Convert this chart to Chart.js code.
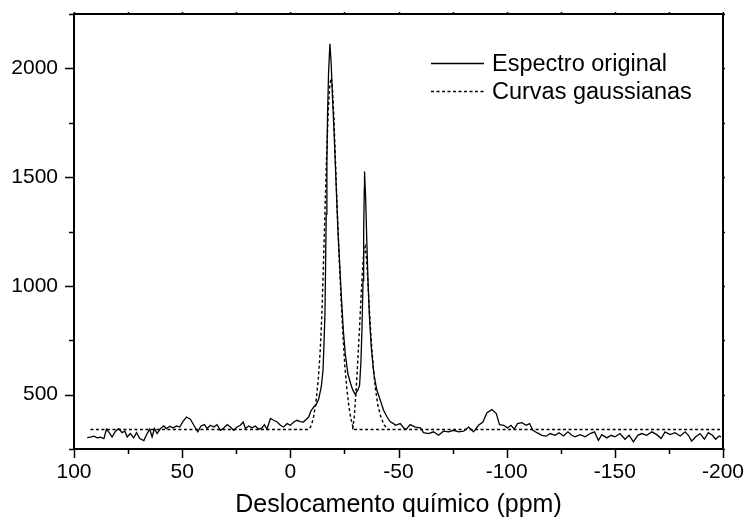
<!DOCTYPE html>
<html>
<head>
<meta charset="utf-8">
<script src="https://cdn.jsdelivr.net/npm/chart.js@4.4.1/dist/chart.umd.min.js"></script>
<style>
  html, body { margin: 0; padding: 0; background: #fff; }
  canvas { display: block; }
</style>
</head>
<body>
<canvas id="spectrum" width="747" height="523"></canvas>
<script>
// espectro original (deslocamento em ppm, intensidade)
const shiftPpm = [
  93.9, 92.4, 90.8, 89.3, 87.8, 86.2, 85.0, 83.4, 82.4, 80.8,
  79.3, 77.8, 76.5, 75.4, 73.9, 72.4, 71.1, 69.6, 67.7, 66.2,
  65.0, 63.9, 62.8, 61.6, 60.0, 58.5, 57.3, 55.7, 54.2, 52.6,
  51.1, 49.6, 48.0, 46.2, 44.6, 42.8, 41.3, 39.7, 38.5, 36.9,
  35.4, 33.9, 32.3, 30.8, 29.2, 27.7, 26.2, 24.6, 23.1, 21.8,
  20.8, 19.2, 17.7, 16.2, 14.6, 13.1, 12.0, 10.8, 9.2, 7.7,
  6.1, 4.6, 3.1, 1.5, 0.0, -1.6, -3.1, -4.6, -6.1, -6.9,
  -8.5, -9.5, -10.8, -11.8, -13.1, -14.3, -15.1, -15.5, -16.0, -16.3,
  -16.6, -16.9, -17.2, -17.7, -18.3, -18.9, -19.5, -20.2, -20.8, -21.4,
  -22.0, -22.8, -23.6, -24.5, -25.4, -26.6, -27.9, -28.8, -30.0, -31.3,
  -32.0, -32.6, -33.1, -33.6, -33.9, -34.2, -34.3, -34.8, -35.3, -35.9,
  -36.5, -37.4, -38.6, -40.0, -41.6, -43.1, -44.7, -46.2, -47.7, -48.5,
  -50.8, -52.4, -53.6, -55.4, -57.8, -60.1, -61.6, -63.9, -66.2, -68.5,
  -70.8, -73.2, -75.5, -77.8, -80.1, -82.4, -84.7, -87.0, -89.0, -90.9,
  -93.2, -95.2, -96.7, -98.6, -100.4, -102.0, -103.5, -105.0, -107.0, -109.0,
  -110.6, -112.1, -114.0, -116.3, -118.3, -120.1, -122.4, -124.2, -126.3, -128.3,
  -130.1, -131.6, -134.0, -136.3, -138.6, -140.6, -142.4, -144.0, -146.3, -148.3,
  -150.1, -152.4, -154.7, -156.6, -158.6, -160.6, -162.4, -164.8, -167.1, -169.4,
  -171.4, -173.2, -175.5, -177.8, -180.2, -182.5, -184.0, -185.5, -187.4, -189.4,
  -191.4, -193.2, -195.1, -196.6, -198.2, -199.1
];
const intensity = [
  302, 305, 309, 301, 304, 298, 341, 321, 305, 332,
  344, 325, 332, 305, 321, 301, 325, 298, 289, 321,
  341, 305, 344, 321, 344, 356, 344, 355, 347, 356,
  351, 377, 397, 387, 359, 329, 356, 362, 344, 359,
  351, 362, 336, 347, 362, 351, 336, 351, 359, 374,
  344, 356, 347, 356, 341, 347, 362, 341, 390, 382,
  374, 359, 351, 367, 359, 374, 382, 376, 374, 382,
  397, 425, 443, 451, 480, 535, 611, 718, 871, 1101,
  1330, 1559, 1789, 1988, 2113, 2018, 1865, 1712, 1559, 1406,
  1254, 1101, 948, 795, 688, 596, 550, 523, 501, 523,
  543, 642, 795, 1024, 1254, 1452, 1526, 1406, 1223, 1024,
  871, 718, 596, 520, 474, 428, 397, 375, 367, 359,
  367, 347, 341, 362, 351, 347, 325, 321, 329, 313,
  332, 329, 336, 329, 332, 351, 329, 359, 374, 417,
  431, 413, 362, 359, 347, 359, 341, 367, 371, 359,
  367, 336, 325, 313, 309, 321, 313, 325, 310, 329,
  313, 306, 316, 306, 321, 329, 290, 316, 301, 313,
  306, 321, 295, 313, 283, 313, 321, 313, 329, 316,
  298, 329, 316, 325, 310, 329, 313, 286, 306, 321,
  295, 325, 313, 295, 310, 306
];

// curvas gaussianas ajustadas (a primeira inclui a linha de base)
const gauss1Ppm = [
  92.4, -8.6, -9.8, -10.8, -12.0, -13.0, -13.8, -14.5, -15.1, -15.7,
  -16.3, -16.9, -17.6, -18.3, -18.9, -19.5, -20.1, -20.7, -21.3, -22.0,
  -22.8, -23.6, -24.4, -25.2, -26.1, -27.0, -27.9, -28.7, -29.4, -200
];
const gauss1Val = [
  340, 340, 360, 400, 480, 580, 700, 850, 1030, 1230,
  1440, 1640, 1820, 1930, 1955, 1900, 1780, 1620, 1450, 1270,
  1080, 910, 760, 630, 530, 450, 395, 360, 340, 340
];
const gauss2Ppm = [
  -28.8, -29.6, -30.4, -31.2, -32.0, -32.7, -33.4, -34.0, -34.6, -35.2,
  -35.9, -36.6, -37.4, -38.3, -39.3, -40.5, -41.9, -43.4, -45.1
];
const gauss2Val = [
  340, 400, 520, 660, 810, 950, 1080, 1160, 1180, 1130,
  1010, 880, 750, 630, 530, 450, 395, 360, 340
];

const xMajorTicks = [100, 50, 0, -50, -100, -150, -200];
const yMajorTicks = [500, 1000, 1500, 2000];

const seriesLabels = ['Espectro original', 'Curvas gaussianas'];
const dotted = [3, 2.5];

function toPoints(xs, ys) {
  return xs.map((x, i) => ({ x: x, y: ys[i] }));
}

// tamanho fixo dos eixos, sem folga extra dos rótulos
function fixAxis(scale, size) {
  if (scale.isHorizontal()) scale.height = size;
  else scale.width = size;
  scale.paddingLeft = scale.paddingRight = scale.paddingTop = scale.paddingBottom = 0;
}

// moldura, marcas dos eixos e legenda dentro do gráfico
const frameAndLegend = {
  id: 'frameAndLegend',
  afterDraw(chart) {
    const { ctx, chartArea: a, scales: { x, y } } = chart;
    ctx.save();
    ctx.strokeStyle = '#000';
    ctx.lineWidth = 2;
    ctx.strokeRect(a.left, a.top, a.right - a.left, a.bottom - a.top);

    ctx.lineWidth = 1.5;
    ctx.beginPath();
    x.ticks.forEach(t => {
      const px = Math.round(x.getPixelForValue(t.value)) + 0.5;
      const len = xMajorTicks.includes(t.value) ? 9 : 5;
      ctx.moveTo(px, a.bottom);
      ctx.lineTo(px, a.bottom + len);
      ctx.moveTo(px, a.top);
      ctx.lineTo(px, a.top - 2);
    });
    y.ticks.forEach(t => {
      const py = Math.round(y.getPixelForValue(t.value)) + 0.5;
      const len = yMajorTicks.includes(t.value) ? 9 : 5;
      ctx.moveTo(a.left, py);
      ctx.lineTo(a.left - len, py);
      ctx.moveTo(a.right, py);
      ctx.lineTo(a.right + 2, py);
    });
    ctx.stroke();

    // legenda
    ctx.font = '23.5px "Liberation Sans", Arial, sans-serif';
    ctx.fillStyle = '#000';
    ctx.textBaseline = 'alphabetic';
    ctx.lineWidth = 1.4;
    const rows = [{ y: 63.5, base: 71, dash: [] }, { y: 91.5, base: 99, dash: dotted }];
    rows.forEach((r, i) => {
      ctx.setLineDash(r.dash);
      ctx.beginPath();
      ctx.moveTo(431, r.y);
      ctx.lineTo(484, r.y);
      ctx.stroke();
      ctx.fillText(seriesLabels[i], 492, r.base);
    });
    ctx.restore();
  }
};

const ctx = document.getElementById('spectrum').getContext('2d');

new Chart(ctx, {
  type: 'line',
  data: {
    datasets: [
      {
        label: seriesLabels[0],
        data: toPoints(shiftPpm, intensity),
        borderColor: '#000',
        borderWidth: 1.3,
        pointRadius: 0,
        tension: 0,
        fill: false
      },
      {
        label: seriesLabels[1],
        data: toPoints(gauss1Ppm, gauss1Val),
        borderColor: '#000',
        borderWidth: 1.4,
        borderDash: dotted,
        pointRadius: 0,
        tension: 0,
        fill: false
      },
      {
        label: seriesLabels[1],
        data: toPoints(gauss2Ppm, gauss2Val),
        borderColor: '#000',
        borderWidth: 1.4,
        borderDash: dotted,
        pointRadius: 0,
        tension: 0,
        fill: false
      }
    ]
  },
  options: {
    responsive: false,
    animation: false,
    layout: { padding: { top: 14, right: 24, left: 0, bottom: 0 } },
    plugins: {
      legend: { display: false },
      tooltip: { enabled: false }
    },
    scales: {
      x: {
        type: 'linear',
        reverse: true,
        min: -200,
        max: 100,
        grid: { display: false, drawTicks: false },
        border: { display: false },
        ticks: {
          stepSize: 25,
          autoSkip: false,
          maxRotation: 0,
          padding: 11,
          color: '#000',
          font: { family: '"Liberation Sans", Arial, sans-serif', size: 21 },
          callback: v => xMajorTicks.includes(v) ? String(v) : ''
        },
        title: {
          display: true,
          text: 'Deslocamento químico (ppm)',
          color: '#000',
          font: { family: '"Liberation Sans", Arial, sans-serif', size: 25 },
          padding: { top: 0, bottom: 3 }
        },
        afterFit: scale => fixAxis(scale, 74)
      },
      y: {
        min: 250,
        max: 2250,
        grid: { display: false, drawTicks: false },
        border: { display: false },
        ticks: {
          stepSize: 250,
          autoSkip: false,
          padding: 16,
          color: '#000',
          font: { family: '"Liberation Sans", Arial, sans-serif', size: 21 },
          callback: v => yMajorTicks.includes(v) ? String(v) : ''
        },
        afterFit: scale => fixAxis(scale, 74)
      }
    }
  },
  plugins: [frameAndLegend]
});
</script>
</body>
</html>
